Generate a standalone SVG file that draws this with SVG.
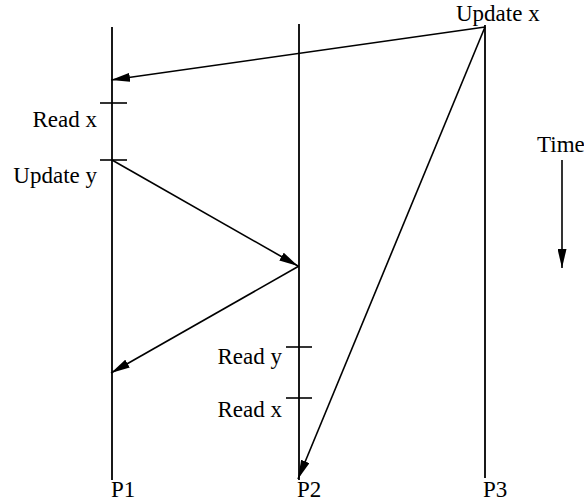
<svg xmlns="http://www.w3.org/2000/svg" width="584" height="503" viewBox="0 0 584 503">
  <style>
    .life { stroke: #000; stroke-width: 1.8; fill: none; }
    .tick { stroke: #000; stroke-width: 1.6; fill: none; }
    .msg { stroke: #000; stroke-width: 1.6; fill: none; marker-end: url(#head); }
    text { font-family: "Liberation Serif", "Times New Roman", serif; font-size: 23px; fill: #000; }
    .r { text-anchor: end; }
  </style>
  <defs>
    <marker id="head" viewBox="0 0 19 9" refX="19" refY="4.5" markerWidth="19" markerHeight="9" markerUnits="userSpaceOnUse" orient="auto">
      <path d="M0,0 L19,4.5 L0,9 Z" fill="#000"/>
    </marker>
  </defs>
  <rect width="584" height="503" fill="#fff"/>

  <!-- process P1 -->
  <g id="p1">
    <line class="life" x1="112" y1="27" x2="112" y2="480"/>
    <line class="tick" x1="100" y1="103" x2="127" y2="103"/>
    <line class="tick" x1="100" y1="160" x2="127" y2="160"/>
    <text class="r" x="97" y="127">Read x</text>
    <text class="r" x="97" y="183">Update y</text>
    <text x="111" y="497">P1</text>
  </g>

  <!-- process P2 -->
  <g id="p2">
    <line class="life" x1="299" y1="24" x2="299" y2="480"/>
    <line class="tick" x1="286" y1="347" x2="312" y2="347"/>
    <line class="tick" x1="286" y1="398" x2="312" y2="398"/>
    <text class="r" x="282" y="364">Read y</text>
    <text class="r" x="282" y="417">Read x</text>
    <text x="297" y="497">P2</text>
  </g>

  <!-- process P3 -->
  <g id="p3">
    <line class="life" x1="485" y1="25" x2="485" y2="478"/>
    <text x="456" y="21">Update x</text>
    <text x="483" y="497">P3</text>
  </g>

  <!-- time axis -->
  <g id="time">
    <text x="537" y="152">Time</text>
    <line class="msg" x1="562" y1="160" x2="562" y2="268"/>
  </g>

  <!-- messages -->
  <g id="connectors">
    <line class="msg" x1="485" y1="27" x2="111" y2="80"/>
    <line class="msg" x1="112" y1="160" x2="298" y2="266"/>
    <line class="msg" x1="299" y1="266" x2="111" y2="373"/>
    <line class="msg" x1="485" y1="27" x2="298" y2="479"/>
  </g>
</svg>
